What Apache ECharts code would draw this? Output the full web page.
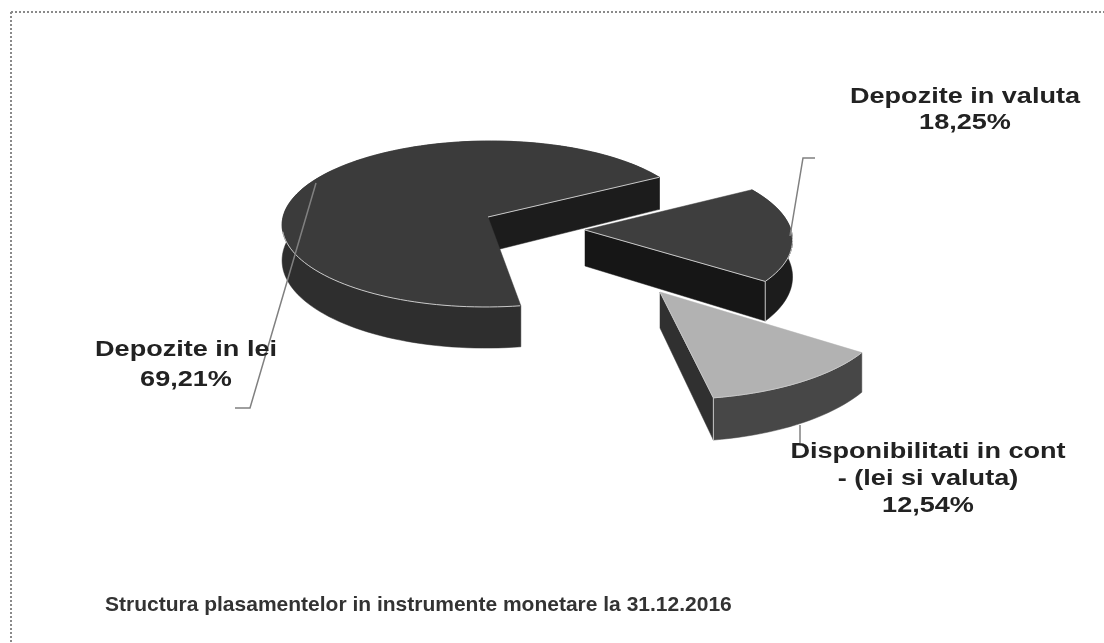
<!DOCTYPE html>
<html>
<head>
<meta charset="utf-8">
<title>Structura plasamentelor</title>
<style>
    html, body { margin: 0; height: 100%; background: #fff; }
    #chart { width: 1104px; height: 643px; }
</style>
<script src="https://cdn.jsdelivr.net/npm/echarts@6/dist/echarts.min.js"></script>
</head>
<body>
<div id="chart"></div>
<script>
// values, counter-clockwise from the start angle
const sliceNames = ['Depozite in lei', 'Disponibilitati in cont\n- (lei si valuta)', 'Depozite in valuta'];
const sliceShares = [69.21, 12.54, 18.25];
const chartTitle = 'Structura plasamentelor in instrumente monetare la 31.12.2016';

// how each exploded slice sits on the page (fake 3d, perspective by hand)
const startAngle = 30;
const tilt = 0.084;
const sliceLayout = [
    { x: 488, y: 217, rx: 205, ry: 83, drift: -30, depth: 35, edgeFrom: 190,
      top: '#3b3b3b', cut: '#1c1c1c', outer: '#2e2e2e' },
    { x: 660, y: 292, rx: 227, ry: 99, drift: 172, depth: 36, edgeFrom: 0,
      top: '#b2b2b2', cut: '#303030', outer: '#474747' },
    { x: 585, y: 230, rx: 206, ry: 84, drift: 97, depth: 36, edgeFrom: 0,
      top: '#3e3e3e', cut: '#161616', outer: '#1c1c1c' }
];
const labelLayout = [
    { x: 186, y: 365, line: 30, leader: [[235, 408], [250, 408], [316, 183]] },
    { x: 928, y: 479, line: 27, leader: [[800, 425], [800, 443]] },
    { x: 965, y: 110, line: 26, leader: [[815, 158], [803, 158], [790, 236]] }
];

function project (s, deg, down) {
    const a = deg * Math.PI / 180;
    const f = 1 - tilt * Math.sin(a);
    return [
        s.x + s.rx * Math.cos(a) * f + s.drift * (f - 1),
        s.y - s.ry * Math.sin(a) * f + (down ? s.depth * f * f : 0)
    ];
}

function arc (s, from, to, down) {
    const pts = [];
    const n = Math.max(2, Math.ceil(Math.abs(to - from) / 2));
    for (let i = 0; i <= n; i++) {
        pts.push(project(s, from + (to - from) * i / n, down));
    }
    return pts;
}

function poly (points, fill) {
    return { type: 'polygon', shape: { points: points }, style: { fill: fill, stroke: fill, lineWidth: 0.5 } };
}

function edge (points) {
    return { type: 'polyline', shape: { points: points }, style: { fill: null, stroke: '#c8c8c8', lineWidth: 1 } };
}

function renderSlice (params, api) {
    const i = params.dataIndex;
    const s = sliceLayout[i];
    let from = startAngle;
    for (let k = 0; k < i; k++) {
        from += sliceShares[k] * 3.6;
    }
    const to = from + api.value(0) * 3.6;
    const apex = [s.x, s.y];
    const apexDown = [s.x, s.y + s.depth];
    const children = [];

    // walls first, the top surface paints over whatever faces away
    // the cut face at the start angle is the one that can be seen on every slice
    children.push(poly(arc(s, from, to).concat(arc(s, to, from, true)), s.outer));
    children.push(poly([apex, project(s, from), project(s, from, true), apexDown], s.cut));
    children.push(poly([apex].concat(arc(s, from, to)), s.top));

    // thin light edges along the front of the top surface
    children.push(edge(arc(s, Math.max(from, s.edgeFrom), Math.min(to, s.edgeFrom ? 279 : 360))));
    children.push(edge([apex, project(s, from)]));
    if (i > 0) {
        children.push(edge([project(s, from), project(s, from, true)]));
    }
    return { type: 'group', children: children };
}

function shareText (v) {
    return v.toFixed(2).replace('.', ',') + '%';
}

function renderLabel (params, api) {
    const i = params.dataIndex;
    const l = labelLayout[i];
    return {
        type: 'group',
        children: [
            {
                type: 'polyline',
                shape: { points: l.leader },
                style: { fill: null, stroke: '#808080', lineWidth: 1.5 }
            },
            {
                type: 'text',
                x: l.x,
                y: l.y,
                scaleX: 1.23,
                style: {
                    text: sliceNames[i] + '\n' + shareText(api.value(0)),
                    x: 0,
                    y: 0,
                    align: 'center',
                    verticalAlign: 'middle',
                    lineHeight: l.line,
                    fill: '#222',
                    font: 'bold 22px "Liberation Sans"'
                }
            }
        ]
    };
}

const myChart = echarts.init(document.getElementById('chart'));
myChart.setOption({
    animation: false,
    backgroundColor: '#fff',
    title: {
        text: chartTitle,
        left: 100,
        top: 590,
        textStyle: { fontFamily: 'Liberation Sans', fontWeight: 'bold', fontSize: 21, color: '#333' }
    },
    graphic: [
        { type: 'line', shape: { x1: 11, y1: 12, x2: 1104, y2: 12 }, style: { stroke: '#8a8a8a', lineWidth: 2, lineDash: [2, 2] } },
        { type: 'line', shape: { x1: 11, y1: 12, x2: 11, y2: 643 }, style: { stroke: '#8a8a8a', lineWidth: 2, lineDash: [2, 2] } }
    ],
    series: [
        {
            type: 'custom',
            coordinateSystem: 'none',
            silent: true,
            renderItem: renderSlice,
            data: sliceShares
        },
        {
            type: 'custom',
            coordinateSystem: 'none',
            silent: true,
            z: 3,
            renderItem: renderLabel,
            data: sliceShares
        }
    ]
});
</script>
</body>
</html>
